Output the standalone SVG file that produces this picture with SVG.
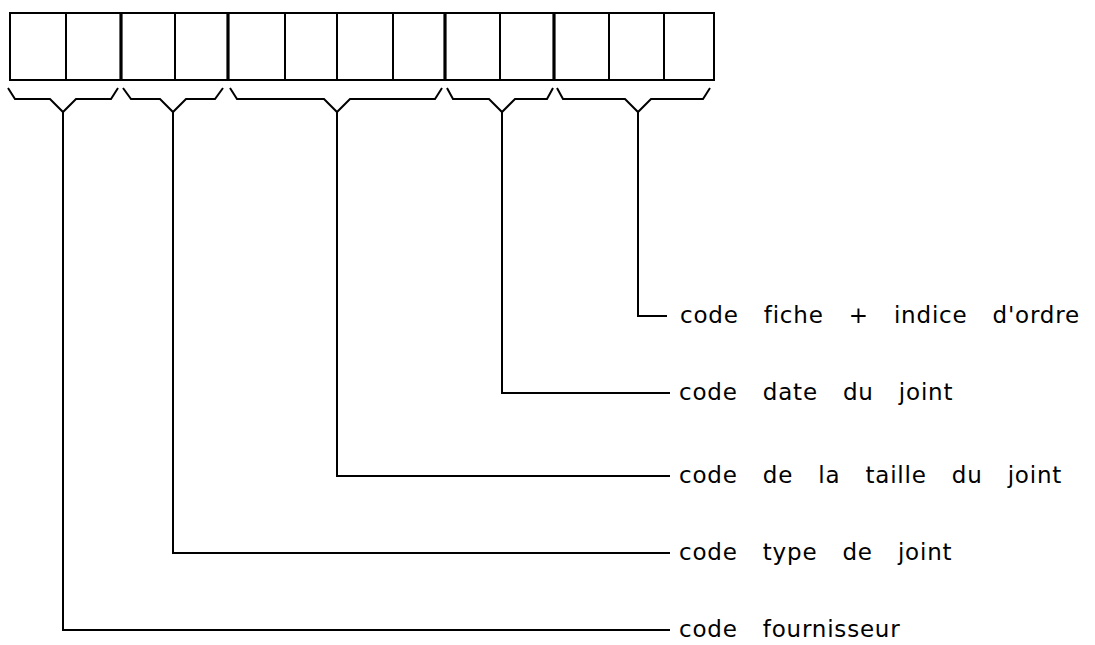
<svg xmlns="http://www.w3.org/2000/svg" width="1095" height="645" viewBox="0 0 1095 645">
<style>
.cell{fill:none;stroke:#000;stroke-width:2}
.div{stroke:#000;stroke-width:2}
.grp{stroke:#000;stroke-width:3.2}
.br{fill:none;stroke:#000;stroke-width:2;stroke-linejoin:miter}
.ln{fill:none;stroke:#000;stroke-width:2}
.lbl{font-family:"DejaVu Sans",sans-serif;font-size:23px;letter-spacing:0.8px;word-spacing:17px;fill:#000}
</style>
<rect width="1095" height="645" fill="#fff"/>
<g id="register">
  <rect class="cell" x="10" y="13" width="704" height="67"/>
  <line class="div" x1="66" y1="13" x2="66" y2="80"/>
  <line class="grp" x1="121" y1="13" x2="121" y2="80"/>
  <line class="div" x1="175" y1="13" x2="175" y2="80"/>
  <line class="grp" x1="228" y1="13" x2="228" y2="80"/>
  <line class="div" x1="285" y1="13" x2="285" y2="80"/>
  <line class="div" x1="337" y1="13" x2="337" y2="80"/>
  <line class="div" x1="393" y1="13" x2="393" y2="80"/>
  <line class="grp" x1="445" y1="13" x2="445" y2="80"/>
  <line class="div" x1="500" y1="13" x2="500" y2="80"/>
  <line class="grp" x1="554" y1="13" x2="554" y2="80"/>
  <line class="div" x1="609" y1="13" x2="609" y2="80"/>
  <line class="div" x1="664" y1="13" x2="664" y2="80"/>
</g>
<g id="braces">
  <path class="br" d="M8,88 L15,99 L50,99 L63,112 L76,99 L111,99 L118,88"/>
  <path class="br" d="M123,88 L131,99 L160,99 L173,112 L186,99 L215,99 L223,88"/>
  <path class="br" d="M230,88 L237,99 L324,99 L337,112 L350,99 L435,99 L442,88"/>
  <path class="br" d="M447,88 L453,99 L489,99 L502,112 L515,99 L547,99 L553,88"/>
  <path class="br" d="M557,88 L563,99 L625,99 L638,112 L651,99 L703,99 L710,88"/>
</g>
<g id="connectors">
  <path class="ln" d="M638,112 V316 H667"/>
  <path class="ln" d="M502,112 V393 H670"/>
  <path class="ln" d="M337,112 V476 H670"/>
  <path class="ln" d="M173,112 V553 H670"/>
  <path class="ln" d="M63,112 V630 H670"/>
</g>
<g id="label-fiche"><text class="lbl" x="680" y="323">code fiche + indice d'ordre</text></g>
<g id="label-date"><text class="lbl" x="679" y="400">code date du joint</text></g>
<g id="label-taille"><text class="lbl" x="679" y="483">code de la taille du joint</text></g>
<g id="label-type"><text class="lbl" x="679" y="560">code type de joint</text></g>
<g id="label-fournisseur"><text class="lbl" x="679" y="637">code fournisseur</text></g>
</svg>
